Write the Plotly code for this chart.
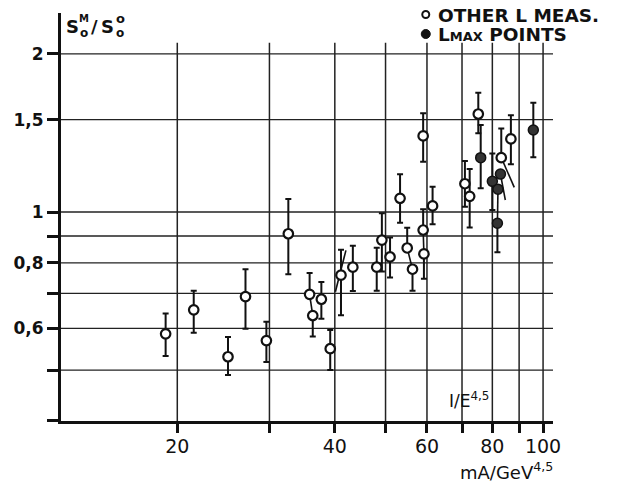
import plotly.graph_objects as go

# ---- data ----
open_x  = [19.0, 21.5, 25.0, 27.0, 29.6, 32.6, 35.8, 36.3, 37.7, 39.2, 41.1, 43.3, 48.1, 49.2, 51.0,
           53.3, 55.0, 56.3, 59.0, 59.2, 59.0, 61.5, 70.9, 72.4, 75.2, 83.2, 86.8]
open_y  = [0.586, 0.651, 0.530, 0.690, 0.569, 0.909, 0.697, 0.635, 0.682, 0.549, 0.758, 0.785, 0.785, 0.884, 0.821,
           1.062, 0.854, 0.778, 0.924, 0.832, 1.396, 1.027, 1.132, 1.071, 1.537, 1.269, 1.378]
open_hi = [0.641, 0.708, 0.578, 0.778, 0.618, 1.059, 0.765, 0.635, 0.736, 0.596, 0.847, 0.862, 0.855, 0.994, 0.894,
           1.180, 0.933, 0.778, 1.012, 0.832, 1.542, 1.117, 1.251, 1.207, 1.688, 1.443, 1.528]
open_lo = [0.532, 0.589, 0.489, 0.599, 0.518, 0.761, 0.697, 0.579, 0.626, 0.500, 0.636, 0.707, 0.708, 0.770, 0.750,
           0.954, 0.854, 0.708, 0.924, 0.746, 1.247, 0.948, 1.023, 0.934, 1.412, 1.269, 1.233]

filled_x  = [76.0, 80.0, 82.9, 82.0, 81.8, 95.8]
filled_y  = [1.269, 1.144, 1.181, 1.105, 0.952, 1.433]
filled_hi = [1.465, 1.293, 1.181, 1.105, 0.952, 1.615]
filled_lo = [1.110, 1.009, 1.181, 1.105, 0.838, 1.271]

# slanted connector segments between paired measurements (x0, y0, x1, y1)
pair_x0 = [35.8, 40.1, 55.0, 59.0, 83.2, 82.9, 82.0]
pair_y0 = [0.697, 0.705, 0.854, 0.924, 1.269, 1.181, 1.105]
pair_x1 = [36.3, 42.0, 56.3, 59.2, 88.1, 84.7, 81.8]
pair_y1 = [0.635, 0.845, 0.778, 0.832, 1.114, 1.054, 0.952]

x_tickvals = [20, 30, 40, 50, 60, 70, 80, 90, 100]
x_ticktext = ["20", "", "40", "", "60", "", "80", "", "100"]
y_tickvals = [0.4, 0.5, 0.6, 0.7, 0.8, 0.9, 1, 1.5, 2]
y_ticktext = ["", "", "0,6", "", "0,8", "", "1", "1,5", "2"]
x_grid = [20, 30, 40, 50, 60, 70, 80, 90, 100]
y_grid = [0.5, 0.6, 0.7, 0.8, 0.9, 1, 1.5, 2]
grid_top = 2.1

FONT = "DejaVu Sans"
INK = "#111"

fig = go.Figure()

# connectors
for a, b, c, d in zip(pair_x0, pair_y0, pair_x1, pair_y1):
    fig.add_trace(go.Scatter(x=[a, c], y=[b, d], mode="lines",
                             line=dict(color=INK, width=1.6), showlegend=False, hoverinfo="skip"))

fig.add_trace(go.Scatter(
    x=open_x, y=open_y, mode="markers", showlegend=False,
    marker=dict(symbol="circle", size=9.5, color="white", line=dict(color=INK, width=2.2)),
    error_y=dict(type="data", symmetric=False,
                 array=[h - v for h, v in zip(open_hi, open_y)],
                 arrayminus=[v - l for v, l in zip(open_y, open_lo)],
                 color=INK, thickness=2, width=3)))

fig.add_trace(go.Scatter(
    x=filled_x, y=filled_y, mode="markers", showlegend=False,
    marker=dict(symbol="circle", size=10, color="#333", line=dict(color=INK, width=1.5)),
    error_y=dict(type="data", symmetric=False,
                 array=[h - v for h, v in zip(filled_hi, filled_y)],
                 arrayminus=[v - l for v, l in zip(filled_y, filled_lo)],
                 color=INK, thickness=2, width=3)))

shapes = []
for gx in x_grid:
    shapes.append(dict(type="line", xref="x", yref="y", x0=gx, x1=gx, y0=0.4, y1=grid_top,
                       line=dict(color="#222", width=1.5), layer="below"))
for gy in y_grid:
    shapes.append(dict(type="line", xref="paper", yref="y", x0=0, x1=1, y0=gy, y1=gy,
                       line=dict(color="#222", width=1.3), layer="below"))
# legend symbols
shapes.append(dict(type="circle", xref="paper", yref="paper", xsizemode="pixel", ysizemode="pixel",
                   xanchor=0.7414, yanchor=0.9963, x0=-3.5, x1=3.5, y0=-3.5, y1=3.5,
                   line=dict(color=INK, width=2), fillcolor="white"))
shapes.append(dict(type="circle", xref="paper", yref="paper", xsizemode="pixel", ysizemode="pixel",
                   xanchor=0.7414, yanchor=0.9485, x0=-4.5, x1=4.5, y0=-4.5, y1=4.5,
                   line=dict(color=INK, width=1), fillcolor=INK))


def ann(text, x, y, size, xanchor="left", bold=True):
    return dict(text=("<b>%s</b>" % text) if bold else text, xref="paper", yref="paper", x=x, y=y,
                xanchor=xanchor, yanchor="middle", showarrow=False, borderpad=0,
                font=dict(family=FONT, size=size, color=INK))


annotations = [
    ann("OTHER L MEAS.", 0.7636, 0.9939, 18.5),
    ann("L<span style='font-size:13px'>MAX</span> POINTS", 0.7636, 0.9470, 18.5),
    # y-axis title S_o^M / S_o^o with stacked indices
    ann("S", 0.0091, 0.9669, 18),
    ann("M", 0.0354, 0.9865, 10),
    ann("o", 0.0364, 0.9498, 12),
    ann("/", 0.0680, 0.9669, 18, xanchor="center"),
    ann("S", 0.0788, 0.9669, 18),
    ann("o", 0.1091, 0.9853, 13),
    ann("o", 0.1091, 0.9498, 12),
    ann("I/E<sup>4,5</sup>", 0.786, 0.051, 17, bold=False),
    ann("mA/GeV<sup>4,5</sup>", 0.808, -0.1225, 18, bold=False),
]

# the page body has an 8px margin, so the figure is sized and offset to compensate
fig.update_layout(
    width=617, height=476,
    margin=dict(l=50, r=72, t=5, b=63),
    paper_bgcolor="white", plot_bgcolor="white",
    shapes=shapes, annotations=annotations, showlegend=False,
    xaxis=dict(type="log", range=[1.07881, 2.01898], tickvals=x_tickvals, ticktext=x_ticktext,
               showgrid=False, zeroline=False, showline=True, linecolor=INK, linewidth=3,
               ticks="outside", ticklen=9, tickwidth=2.5, tickcolor=INK, ticklabelstandoff=-3,
               tickfont=dict(family=FONT, size=19, color=INK)),
    yaxis=dict(type="log", range=[-0.39810, 0.37905], tickvals=y_tickvals, ticktext=y_ticktext,
               showgrid=False, zeroline=False, showline=True, linecolor=INK, linewidth=3,
               ticks="outside", ticklen=11, tickwidth=2.5, tickcolor=INK,
               tickfont=dict(family=FONT, size=17, color=INK, weight="bold")),
)

fig.write_html("out.html")
